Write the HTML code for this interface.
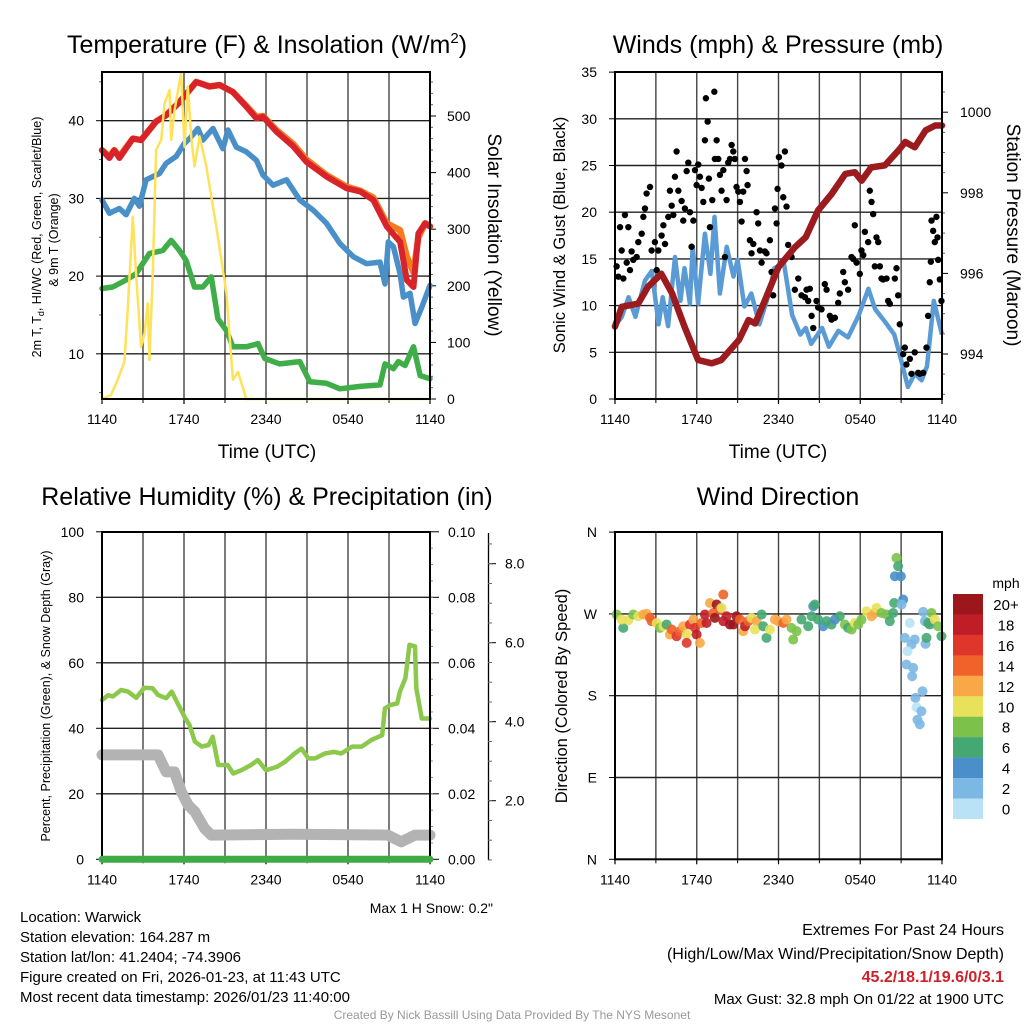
<!DOCTYPE html>
<html><head><meta charset="utf-8"><style>
body{margin:0;background:#fff;}
svg{display:block;font-family:"Liberation Sans",sans-serif;}
</style></head><body>
<svg id="chart" width="1024" height="1024" viewBox="0 0 1024 1024" xmlns="http://www.w3.org/2000/svg">
<rect width="1024" height="1024" fill="#fff"/>
</svg>
<script>
// ---------- Panel 1 data ----------
const xTickLabels = ["1140","1740","2340","0540","1140"];
const xTickHours = [0,6,12,18,24];
const tRed = [0,.54,.9,1.27,2.25,2.86,3.96,4.69,5.67,6.89,7.87,8.61,9.58,10.56,11.3,11.78,12.76,13.99,14.96,16.43,17.9,18.88,19.85,20.83,21.81,22.3,22.79,23.15,23.64,24];
const vRed = [36.2,35.2,36.2,35.2,37.7,37.5,39.9,40.7,42.4,45,44.4,44.6,43.7,41.8,40.3,40.5,38.6,36.7,34.7,32.8,31.3,30.9,29.8,26.4,24.4,19.5,18.6,25.5,26.8,26.4];
const tOrange = [0,.54,.9,1.27,2.25,2.86,3.96,4.69,5.67,6.89,7.87,8.61,9.58,10.56,11.3,11.78,12.76,13.99,14.96,16.43,17.9,18.88,19.85,20.83,21.81,22.3,22.79,23.15,23.64,24];
const vOrange = [36.2,35.4,36.2,35.4,37.7,37.5,39.9,40.7,42.4,45,44.4,44.6,43.7,41.9,40.5,40.6,38.8,37,35,33,31.5,31,30.1,26.8,25.9,22.5,20.5,25,26.8,26.4];
const tBlue = [0,.54,1.27,1.76,2.37,2.74,3.23,3.72,4.21,4.69,5.43,6.04,6.41,7.02,7.38,8.12,8.85,9.22,9.83,10.56,11.3,11.78,12.52,13.5,14.47,15.45,16.43,17.41,18.39,19.36,20.34,20.71,20.95,21.32,21.81,22.05,22.54,22.91,23.4,24];
const vBlue = [29.8,28.1,28.7,27.9,30,29,32.4,32.8,33.2,34.5,35.4,37.1,37.7,39,37.5,39,36.4,38.8,36.6,36,34.9,33,31.7,32.4,29.8,28.5,26.8,24.2,22.5,21.6,21.8,19,24.4,23.8,20.3,17.3,17.8,13.9,16,18.8];
const tGreen = [0,.78,1.76,2.49,3.47,4.45,5.06,5.67,6.16,6.77,7.38,8,8.48,9.1,9.58,10.56,11.42,11.91,13.01,14.47,15.21,16.43,17.41,18.88,20.34,20.71,21.32,21.69,22.18,22.79,23.28,24];
const vGreen = [18.4,18.6,19.5,20.3,22.9,23.3,24.6,23.3,22,18.6,18.6,19.9,14.5,13,10.9,10.9,11.3,9.4,8.7,9,6.4,6.2,5.5,5.8,6,8.7,8.1,9,8.5,10.9,7.2,6.8];
const tSolar = [0,.66,1.15,1.64,1.88,2.25,2.49,2.86,3.11,3.35,3.47,3.72,3.96,4.33,4.57,4.94,5.06,5.31,5.79,6.04,6.28,6.53,6.77,7.14,7.63,8.36,9.1,9.58,9.95,10.56,24];
const vSolar = [0,7,34,66,157,322,222,92,116,169,69,222,440,458,522,546,458,511,575,446,552,464,411,464,411,305,187,34,48,0,0];
const p1LeftTicks = [10,20,30,40];
const p1RightTicks = [0,100,200,300,400,500];
// ---------- Panel 2 data ----------
const tPress = [0,.5,1.7,2.4,3.4,4.2,5.1,6.1,7.1,7.8,9.1,9.8,10.3,11,12,13.2,14,14.9,15.9,16.9,17.6,18.1,18.8,19.8,20.8,21.3,22,22.8,23.5,24];
const vPress = [994.68,995.17,995.25,995.66,995.99,995.5,994.68,993.85,993.77,993.85,994.35,994.84,994.76,995.33,996.16,996.65,996.9,997.56,997.97,998.47,998.51,998.3,998.63,998.68,999.05,999.26,999.13,999.55,999.67,999.67];
const tWind = [0,.5,1,1.5,2.2,2.7,3.2,3.5,3.9,4.4,4.8,5.1,5.5,5.7,6.1,6.6,7,7.3,7.7,8.2,8.7,9,9.5,10,10.6,11.3,11.7,12.4,13,13.6,14,14.4,15.2,15.7,16.4,17.1,17.9,18.6,19.1,19.8,20.5,21,21.5,22,22.5,22.9,23.4,24];
const vWind = [7.8,8.8,10.9,8.8,12.7,13.7,8,10.9,7.8,15.2,10.5,14,10.2,16.3,10.2,17.7,13.4,19.5,11.3,16.3,13.1,14.9,9.9,11.3,8,11.3,14,14.5,9,6.9,7.6,5.9,7.6,5.6,7.3,6.6,9,11.8,9.6,8.3,6.9,4.2,1.3,2.7,2,3.5,10.5,6.9];
const tGust = [.12,.24,.37,.49,.61,.73,.86,.98,1.1,1.22,1.34,1.59,1.71,1.96,2.08,2.2,2.32,2.57,2.69,2.93,3.06,3.18,3.42,3.55,3.67,3.91,4.03,4.16,4.28,4.4,4.52,4.65,4.89,5.01,5.13,5.26,5.38,5.5,5.62,5.75,5.87,5.99,6.11,6.23,6.36,6.48,6.6,6.67,6.8,6.89,6.97,7.14,7.29,7.33,7.46,7.58,7.7,7.82,7.95,8.07,8.19,8.31,8.44,8.56,8.68,8.8,8.92,9.05,9.17,9.29,9.41,9.54,9.66,9.73,9.9,10.02,10.15,10.39,10.51,10.64,10.76,11,11.12,11.37,11.49,11.61,11.74,11.86,11.93,12.03,12.22,12.35,12.47,12.59,12.71,12.96,13.2,13.45,13.69,13.94,14.06,14.18,14.3,14.43,14.55,14.79,14.91,15.16,15.4,15.53,15.77,15.89,16.14,16.38,16.5,16.75,16.87,17.11,17.36,17.48,17.6,17.73,17.97,18.09,18.22,18.34,18.58,18.7,18.83,18.95,19.07,19.19,19.32,19.44,19.56,19.68,19.93,20.05,20.17,20.54,20.66,20.78,20.9,21.15,21.27,21.39,21.64,21.76,22,22.25,22.37,22.62,22.86,22.98,23.1,23.18,23.23,23.35,23.47,23.59,23.67,23.72,23.84,23.96];
const vGust = [14.2,13.1,18.4,15.9,12.9,19.7,14.6,18.4,13.8,15.8,14.9,15.2,16.8,17.7,19.5,20.4,22,22.7,15.9,16.8,13.8,15.9,17.5,18.6,16.6,19.5,22.3,20.7,19.7,23.8,26.5,22.3,21.2,19.1,20.4,24.4,25.3,20,16.3,19.1,24.5,22.9,25.1,23.8,22.6,21.1,27.7,32.2,29.7,23.6,18.4,21.3,32.9,25.7,27.7,25.7,24,22.3,24.5,15.2,21.3,25.3,25.7,27.2,26.5,25.7,22.7,22.2,21.1,19,22.2,25.7,24.4,22.9,17,15.6,16.6,20,18.8,15.9,14.6,15.8,15.6,17,13.6,11.1,20.4,18.8,22.5,25.9,25,21.6,26.5,20.6,16.5,15.2,11.7,12.9,11.1,10.9,11.7,10.5,11.8,8.9,7.6,10.5,9.8,9.6,12.3,11.7,8.9,8.5,8.7,10.3,11.3,13.6,12.5,11.7,15.2,15,18.6,14.6,13.4,15.9,15.4,17.9,16.8,22.3,21.1,19.8,14.2,17.3,16.8,14.2,12.9,12.8,12.9,10.5,10.2,12.9,14,11.1,8,4.8,5.5,3.7,4.3,2.7,5,2.8,2.7,2.8,5.5,8.9,12.5,14.7,19.1,18,16.8,19.5,17.3,14.9,12.8,10.5];
const p2LeftTicks = [0,5,10,15,20,25,30,35];
const p2RightTicks = [994,996,998,1000];
// ---------- Panel 3 data ----------
const tRH = [0,.44,.8,1.4,1.9,2.5,3.1,3.7,4.1,4.7,5.1,5.6,6.1,6.4,6.8,7.3,7.8,8.1,8.5,9.2,9.6,10.2,10.9,11.4,12,12.8,13.4,14.1,14.6,15.1,15.6,16.3,17,17.5,18.3,19,19.7,20.5,20.7,21.1,21.6,21.8,22.2,22.5,22.9,23,23.4,24];
const vRH = [48.6,50.1,49.7,51.7,51.2,49.3,52.4,52.2,50.2,49.2,51.2,47.1,43,41,35.9,34.4,34.9,37.4,28.8,28.8,26.2,27.2,28.8,30.3,27.2,28.2,29.8,32.3,33.8,30.8,30.8,32.3,32.8,32.3,34.4,34.4,36.4,37.9,46.1,47.1,47.6,51.2,55.3,65.5,65,52.2,43,43];
const tSnow = [0,4.1,4.7,5.3,5.8,6.3,6.8,7.5,8,14,20.9,21.9,22.9,24];
const vSnow = [3.16,3.16,2.73,2.73,2.23,1.89,1.72,1.3,1.13,1.15,1.13,0.96,1.13,1.13];
const tPrecip = [0,24];
const vPrecip = [0,0];
const p3LeftTicks = [0,20,40,60,80,100];
const p3PrecipTicks = ["0.00","0.02","0.04","0.06","0.08","0.10"];
const p3SnowTicks = ["2.0","4.0","6.0","8.0"];
// ---------- Panel 4 data ----------
const tDir = [.12,.61,.49,.98,1.34,1.71,2.08,2.32,2.57,2.69,3.06,3.3,3.55,3.79,4.03,4.16,4.52,4.77,5.01,5.26,5.26,5.5,5.75,5.87,5.99,6.23,6.36,6.6,6.72,6.97,7.21,7.33,7.46,7.7,7.82,7.95,7.95,8.19,8.44,8.68,8.92,9.17,9.41,9.54,9.78,10.02,10.39,10.27,10.76,10.88,11.12,11.37,11.74,11.98,12.35,12.59,12.96,13.08,13.33,13.69,14.18,14.43,14.55,14.67,14.91,15.28,15.53,15.89,16.14,16.5,16.87,17.11,17.36,17.6,17.85,18.09,18.46,18.83,19.07,19.19,19.56,19.93,20.17,20.42,20.49,20.66,20.78,20.54,20.98,21.15,21.03,21.27,21.64,21.76,21.47,21.39,21.88,21.81,22,22.05,22.13,22.49,22.57,22.2,22.37,22.62,22.74,22.79,22.86,22.98,23.1,23.23,23.47,23.72,23.96];
const vDir = [269.3,254.6,263.8,263,269.3,267.4,269.3,270,265.6,262,260,254.6,256.4,258.3,247.3,252.8,245.4,251,256.4,247.3,238.1,258.3,263.8,254.6,247.3,238.1,260,269.3,260,282,271,265.6,280.3,274.8,276.6,291.3,262,267.4,258.3,258.3,267.4,263.8,251,256.4,262,265.6,262,252.8,269.3,256.4,243.6,252.8,263.8,262,260,263.8,254.6,241.8,251,263.8,256.4,267.4,278.4,280.3,263.8,256.4,262,258.3,263.8,267.4,258.3,254.6,252.8,260,258.3,263.8,272.9,267.4,271,276.6,271,269.3,262,271,282,331.6,322.4,311.4,311.4,285.8,280.3,243.6,260,236.3,229,214.3,210.6,201.4,241.8,177.6,167.3,162.9,184.9,153.5,148.6,272.2,262,237,243.6,260,258.3,271,263.8,256.4,245.4];
const sDir = [8,6,10,10,8,10,12,12,14,14,10,8,10,6,12,14,16,14,12,10,16,16,12,16,18,12,14,18,18,12,14,20,20,14,10,14,18,18,20,20,20,14,12,18,14,10,12,10,6,6,6,10,12,12,14,12,8,8,8,6,6,6,4,6,6,4,6,6,4,6,8,6,8,10,8,8,10,12,12,10,8,8,6,6,6,8,6,4,4,4,2,2,0,2,0,2,2,2,2,2,0,2,2,2,2,2,2,2,6,6,6,8,10,8,6];
const dirTickLabels = ["N","E","S","W","N"];
const speedBins = ["20+","18","16","14","12","10","8","6","4","2","0"];
const speedColors = ["#9c161c","#c01e27","#e0352b","#f0622a","#f8a846","#e8e15a","#7cc24a","#45a872","#4a8fc9","#7cb8e4","#b9e2f6"];

// ---------- helpers ----------
const NS="http://www.w3.org/2000/svg";
const svg=document.getElementById('chart');
function mk(tag, attrs, parent){const e=document.createElementNS(NS,tag);for(const k in attrs)e.setAttribute(k,attrs[k]);(parent||svg).appendChild(e);return e;}
function txt(s,x,y,size,anchor,parent,extra){const e=mk('text',Object.assign({x:x,y:y,'font-size':size,'text-anchor':anchor||'start',fill:'#000'},extra||{}),parent);e.textContent=s;return e;}
function pathD(ts,vs,xf,yf){let d='';for(let i=0;i<ts.length;i++){d+=(i?'L':'M')+xf(ts[i]).toFixed(1)+','+yf(vs[i]).toFixed(1);}return d;}
function speedColor(s){const i=Math.min(10,Math.max(0,Math.round(s/2)));return speedColors[10-i];}

function frame(g,x0,x1,y0,y1){
  for(let h=3;h<24;h+=3){const x=x0+(x1-x0)*h/24;const l=mk('line',{x1:x,x2:x,y1:y0,y2:y1,stroke:'#444','stroke-width':1.4},g);}
  xTickHours.forEach((h,i)=>{const x=x0+(x1-x0)*h/24;mk('line',{x1:x,x2:x,y1:y1,y2:y1+5,stroke:'#000','stroke-width':1.2},g);const t=txt(xTickLabels[i],x,y1+25,14,'middle',g);});
  for(let h=3;h<24;h+=6){const x=x0+(x1-x0)*h/24;mk('line',{x1:x,x2:x,y1:y1,y2:y1+4,stroke:'#000','stroke-width':1},g);}
}
function border(g,x0,x1,y0,y1){const r=mk('rect',{x:x0,y:y0,width:x1-x0,height:y1-y0,fill:'none',stroke:'#000','stroke-width':2},g);}
function hgrid(g,x0,x1,y){mk('line',{x1:x0,x2:x1,y1:y,y2:y,stroke:'#222','stroke-width':1.4},g);}

// ---------- Panel 1 ----------
(function(){
const g=mk('g',{});
const X0=102,X1=430,Y0=72,Y1=399;
const xs=t=>X0+(X1-X0)*t/24, ys=v=>120.7+(40-v)*7.77, yi=v=>399-v*0.566;
frame(g,X0,X1,Y0,Y1);
p1LeftTicks.forEach(v=>{hgrid(g,X0,X1,ys(v));mk('line',{x1:X0-6,x2:X0,y1:ys(v),y2:ys(v),stroke:'#000'},g);const t=txt(String(v),84,ys(v)+5,14,'end',g);});
for(let v=5;v<=45;v+=10)mk('line',{x1:X0-3,x2:X0,y1:ys(v),y2:ys(v),stroke:'#666'},g);
p1RightTicks.forEach(v=>{mk('line',{x1:X1,x2:X1+6,y1:yi(v),y2:yi(v),stroke:'#000'},g);const t=txt(String(v),447,yi(v)+5,14,'start',g);});
for(let v=20;v<=560;v+=20)if(v%100)mk('line',{x1:X1,x2:X1+3,y1:yi(v),y2:yi(v),stroke:'#666'},g);
const series=[[tGreen,vGreen,'#3fae49',5.5,ys,'dewpoint-line'],[tBlue,vBlue,'#4a90c8',5.5,ys,'windchill-line'],[tOrange,vOrange,'#f47b20',6.5,ys,'temp-9m-line'],[tRed,vRed,'#d9232a',6,ys,'temp-2m-line'],[tSolar,vSolar,'#fde25a',2.5,yi,'solar-insolation-line']];
series.forEach(s=>{const p=mk('path',{d:pathD(s[0],s[1],xs,s[4]),fill:'none',stroke:s[2],'stroke-width':s[3],'stroke-linejoin':'round','stroke-linecap':'round'},g);});
border(g,X0,X1,Y0,Y1);
const tt=mk('text',{x:267,y:53,'font-size':25,'text-anchor':'middle'},g);
tt.innerHTML='Temperature (F) &amp; Insolation (W/m<tspan dy="-10" font-size="15">2</tspan><tspan dy="10">)</tspan>';
const yl=mk('text',{x:0,y:0,'font-size':12.5,'text-anchor':'middle',transform:'translate(41,237) rotate(-90)'},g);
yl.innerHTML='2m T, T<tspan dy="3" font-size="9">d</tspan><tspan dy="-3">, HI/WC (Red, Green, Scarlet/Blue)</tspan>';
const yl2=txt('& 9m T (Orange)',0,0,12.5,'middle',g,{transform:'translate(58,240) rotate(-90)'});
const rl=txt('Solar Insolation (Yellow)',0,0,19,'middle',g,{transform:'translate(488,235) rotate(90)'});
const xl=txt('Time (UTC)',267,458,19,'middle',g);
})();

// ---------- Panel 2 ----------
(function(){
const g=mk('g',{});
const X0=615,X1=942,Y0=72,Y1=399;
const xs=t=>X0+(X1-X0)*t/24, yw=v=>399-v*9.34, yp=v=>354-(v-994)*40.3;
frame(g,X0,X1,Y0,Y1);
p2LeftTicks.forEach(v=>{if(v>0&&v<35)hgrid(g,X0,X1,yw(v));mk('line',{x1:X0-6,x2:X0,y1:yw(v),y2:yw(v),stroke:'#000'},g);const t=txt(String(v),597,yw(v)+5,14,'end',g);});
p2RightTicks.forEach(v=>{mk('line',{x1:X1,x2:X1+6,y1:yp(v),y2:yp(v),stroke:'#000'},g);const t=txt(String(v),960,yp(v)+5,14,'start',g);});
for(let v=993;v<=1000.5;v+=0.5)if(v%2)mk('line',{x1:X1,x2:X1+3,y1:yp(v),y2:yp(v),stroke:'#666'},g);
const wl=mk('path',{d:pathD(tWind,vWind,xs,yw),fill:'none',stroke:'#5b9bd5','stroke-width':4.5,'stroke-linejoin':'round'},g);
tGust.forEach((t,i)=>{const c=mk('circle',{cx:xs(t),cy:yw(vGust[i]),r:3.2,fill:'#000'},g);});
const pl=mk('path',{d:pathD(tPress,vPress,xs,yp),fill:'none',stroke:'#9b1b1e','stroke-width':6.5,'stroke-linejoin':'round','stroke-linecap':'round'},g);
border(g,X0,X1,Y0,Y1);
const tt=txt('Winds (mph) & Pressure (mb)',778,53,25,'middle',g);
const yl=txt('Sonic Wind & Gust (Blue, Black)',0,0,16.5,'middle',g,{transform:'translate(565,235) rotate(-90)'});
const rl=txt('Station Pressure (Maroon)',0,0,19,'middle',g,{transform:'translate(1007,235) rotate(90)'});
const xl=txt('Time (UTC)',778,458,19,'middle',g);
})();

// ---------- Panel 3 ----------
(function(){
const g=mk('g',{});
const X0=102,X1=430,Y0=532,Y1=859.3;
const xs=t=>X0+(X1-X0)*t/24, yr=v=>859.3-v*3.275, ypc=v=>859.3-v*3275, ysn=v=>879.7-v*39.5;
frame(g,X0,X1,Y0,Y1);
p3LeftTicks.forEach(v=>{if(v>0&&v<100)hgrid(g,X0,X1,yr(v));mk('line',{x1:X0-6,x2:X0,y1:yr(v),y2:yr(v),stroke:'#000'},g);const t=txt(String(v),84,yr(v)+5,14,'end',g);});
p3PrecipTicks.forEach(s=>{const y=ypc(parseFloat(s));mk('line',{x1:X1,x2:X1+9,y1:y,y2:y,stroke:'#000'},g);const t=txt(s,448,y+5,14,'start',g);});
for(let v=0.005;v<0.1;v+=0.005){const y=ypc(v);mk('line',{x1:X1,x2:X1+3,y1:y,y2:y,stroke:'#888'},g);}
const ax=mk('line',{x1:488.5,x2:488.5,y1:533,y2:860,stroke:'#000','stroke-width':1.3},g);
p3SnowTicks.forEach(s=>{const y=ysn(parseFloat(s));mk('line',{x1:488,x2:496,y1:y,y2:y,stroke:'#000'},g);const t=txt(s,505,y+5,14,'start',g);});
for(let v=0.5;v<=8.5;v+=0.5){const y=ysn(v);if(y>533&&y<860)mk('line',{x1:488,x2:492,y1:y,y2:y,stroke:'#666'},g);}
const sn=mk('path',{d:pathD(tSnow,vSnow,xs,ysn),fill:'none',stroke:'#b3b3b3','stroke-width':11,'stroke-linejoin':'round','stroke-linecap':'round'},g);
const rh=mk('path',{d:pathD(tRH,vRH,xs,yr),fill:'none',stroke:'#8cc84b','stroke-width':4.5,'stroke-linejoin':'round','stroke-linecap':'round'},g);
border(g,X0,X1,Y0,Y1);
const pc=mk('path',{d:pathD(tPrecip,vPrecip,xs,ypc),fill:'none',stroke:'#3faa48','stroke-width':7,'stroke-linecap':'round'},g);
const tt=txt('Relative Humidity (%) & Precipitation (in)',267,505,25,'middle',g);
const yl=txt('Percent, Precipitation (Green), & Snow Depth (Gray)',0,0,12.5,'middle',g,{transform:'translate(50,696) rotate(-90)'});
const ms=txt('Max 1 H Snow: 0.2"',493,913,14,'end',g);
})();

// ---------- Panel 4 ----------
(function(){
const g=mk('g',{});
const X0=615,X1=942,Y0=532,Y1=859.3;
const xs=t=>X0+(X1-X0)*t/24, yd=v=>859.3-v*0.9089;
frame(g,X0,X1,Y0,Y1);
dirTickLabels.forEach((s,i)=>{const y=yd(i*90);if(i>0&&i<4)hgrid(g,X0,X1,y);mk('line',{x1:X0-6,x2:X0,y1:y,y2:y,stroke:'#000'},g);const t=txt(s,597,y+5,14,'end',g);});
tDir.forEach((t,i)=>{const c=mk('circle',{cx:xs(t),cy:yd(vDir[i]),r:5,fill:speedColor(sDir[i]),'fill-opacity':0.9},g);});
border(g,X0,X1,Y0,Y1);
const tt=txt('Wind Direction',778,505,25,'middle',g);
const yl=txt('Direction (Colored By Speed)',0,0,16.5,'middle',g,{transform:'translate(567,696) rotate(-90)'});
const lg=mk('g',{},g);
const mp=txt('mph',1006,588,14,'middle',lg);
speedBins.forEach((s,i)=>{const y=594+i*20.45;const r=mk('rect',{x:953,y:y,width:30,height:20.6,fill:speedColors[i]},lg);const t=txt(s,1006,y+16,15,'middle',lg);});
})();

// ---------- footer ----------
(function(){
const g=mk('g',{});
const lines=['Location: Warwick','Station elevation: 164.287 m','Station lat/lon: 41.2404; -74.3906','Figure created on Fri, 2026-01-23, at 11:43 UTC','Most recent data timestamp: 2026/01/23 11:40:00'];
lines.forEach((s,i)=>{const t=txt(s,20,922+i*20,15,'start',g);});
const r1=txt('Extremes For Past 24 Hours',1004,935,16,'end',g);
const r2=txt('(High/Low/Max Wind/Precipitation/Snow Depth)',1004,959,16,'end',g);
const r3=txt('45.2/18.1/19.6/0/3.1',1004,982,16,'end',g,{fill:'#d0202a','font-weight':'bold'});
const r4=txt('Max Gust: 32.8 mph On 01/22 at 1900 UTC',1004,1004,15,'end',g);
const c=txt('Created By Nick Bassill Using Data Provided By The NYS Mesonet',512,1019,12,'middle',g,{fill:'#999'});
})();
</script>
</body></html>
